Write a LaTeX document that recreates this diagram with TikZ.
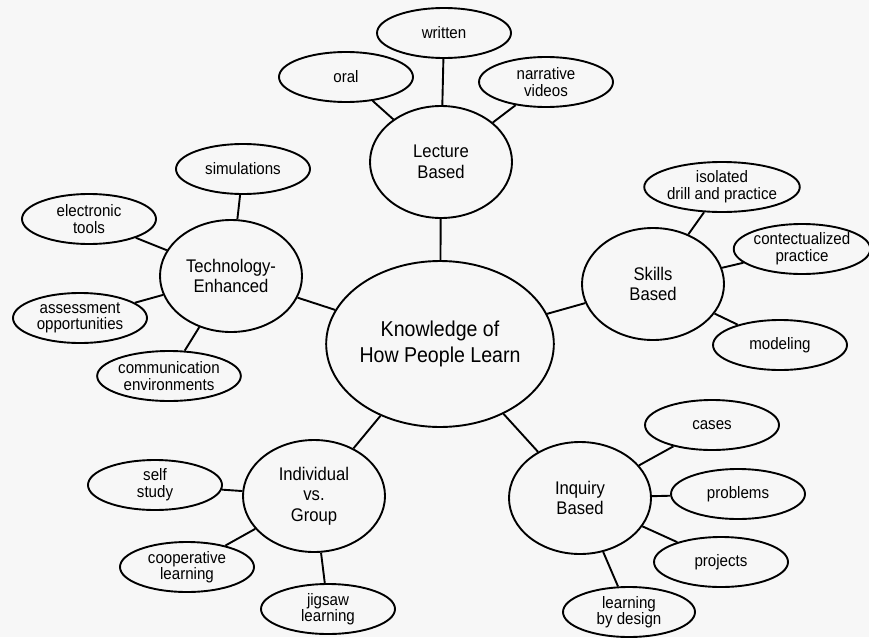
\documentclass[tikz,border=0pt]{standalone}
\usepackage{fontspec}
\setmainfont{Liberation Sans}[FakeStretch=0.91]
\usetikzlibrary{shapes.geometric}

\begin{document}
\begin{tikzpicture}[x=1pt,y=-1pt]
\tikzset{every node/.style={ellipse,draw,line width=1.9pt,inner sep=0pt,align=center,text=black}}
\tikzset{leaf/.style={minimum width=134pt,minimum height=50pt,font=\fontsize{16.6}{16.6}\selectfont}}
\tikzset{topic/.style={minimum width=142pt,minimum height=112pt,font=\fontsize{18.3}{20.5}\selectfont}}
\tikzset{hub/.style={minimum width=206pt,minimum height=166pt,font=\fontsize{21.5}{26}\selectfont}}
\tikzset{every path/.append style={line width=1.9pt}}

\fill[gray!6] (0,0) rectangle (869,637);
\useasboundingbox (0,0) rectangle (869,637);

% center and main branches
\node[hub] (hub) at (440,344) {Knowledge of\\How People Learn};
\node[topic] (lecture) at (441,162) {Lecture\\Based};
\node[topic] (tech) at (231,276) {Technology-\\Enhanced};
\node[topic] (skills) at (653,284) {Skills\\Based};
\node[topic] (indiv) at (314,496) {Individual\\vs.\\Group};
\node[topic] (inquiry) at (580,498) {Inquiry\\Based};

% leaves
\node[leaf] (written) at (444,33) {written};
\node[leaf] (oral) at (346,77) {oral};
\node[leaf] (narrative) at (546,82) {narrative\\videos};
\node[leaf] (simulations) at (243,169) {simulations};
\node[leaf] (electronic) at (89,219) {electronic\\tools};
\node[leaf] (assessment) at (80,318) {assessment\\opportunities};
\node[leaf] (communication) at (169,376) {communication\\environments};
\node[leaf] (isolated) at (722,187) {isolated\\drill and practice};
\node[leaf,minimum width=128pt] (contect) at (802,249) {contectualized\\practice};
\node[leaf] (modeling) at (780,345) {modeling};
\node[leaf] (selfstudy) at (155,485) {self\\study};
\node[leaf] (coop) at (187,567) {cooperative\\learning};
\node[leaf] (jigsaw) at (328,609) {jigsaw\\learning};
\node[leaf] (cases) at (712,425) {cases};
\node[leaf] (problems) at (738,494) {problems};
\node[leaf] (projects) at (721,562) {projects};
\node[leaf,minimum width=132pt] (design) at (629,612) {learning\\by design};

\draw (hub) -- (lecture);
\draw (hub) -- (tech);
\draw (hub) -- (skills);
\draw (hub) -- (indiv);
\draw (hub) -- (inquiry);

\draw (lecture) -- (written);
\draw (lecture) -- (oral);
\draw (lecture) -- (narrative);
\draw (tech) -- (simulations);
\draw (tech) -- (electronic);
\draw (tech) -- (assessment);
\draw (tech) -- (communication);
\draw (skills) -- (isolated);
\draw (skills) -- (contect);
\draw (skills) -- (modeling);
\draw (indiv) -- (selfstudy);
\draw (indiv) -- (coop);
\draw (indiv) -- (jigsaw);
\draw (inquiry) -- (cases);
\draw (inquiry) -- (problems);
\draw (inquiry) -- (projects);
\draw (inquiry) -- (design);

\end{tikzpicture}
\end{document}
